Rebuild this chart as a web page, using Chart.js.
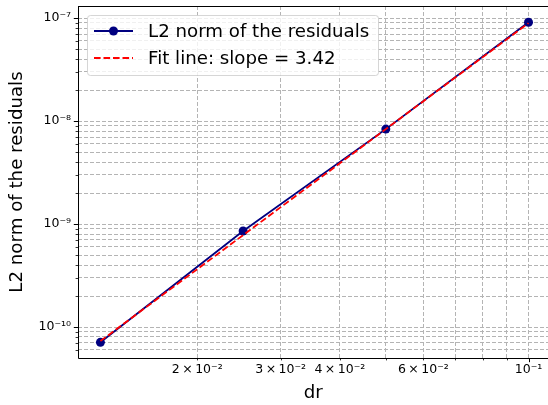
<!DOCTYPE html>
<html>
<head>
<meta charset="utf-8">
<script src="https://cdn.jsdelivr.net/npm/chart.js@4/dist/chart.umd.min.js"></script>
<style>
  html, body { margin: 0; padding: 0; background: #fff; overflow: hidden; width: 548px; height: 405px; }
  canvas { display: block; }
</style>
</head>
<body>
<!-- the plot runs past the right edge of the picture, so the canvas is a little wider than the window -->
<canvas id="chart" width="553" height="405"></canvas>
<script>
'use strict';

let dr = [0.0125, 0.025, 0.05, 0.1];
let residualNorms = [7.1e-11, 8.55e-10, 8.35e-9, 9.1e-8];
let fitNorms = [7.3e-11, 7.8e-10, 8.35e-9, 8.93e-8];
let xTickValues = [0.02, 0.03, 0.04, 0.06, 0.1];
let xTickLabels = ['2\u2009×\u200910⁻²', '3\u2009×\u200910⁻²', '4\u2009×\u200910⁻²', '6\u2009×\u200910⁻²', '10⁻¹'];
let yTickValues = [1e-10, 1e-9, 1e-8, 1e-7];
let yTickLabels = ['10⁻¹⁰', '10⁻⁹', '10⁻⁸', '10⁻⁷'];
let legendLabels = ['L2 norm of the residuals', 'Fit line: slope = 3.42'];

let canvasElem = document.getElementById('chart');
Chart.defaults.font.family = 'DejaVu Sans';
Chart.defaults.color = '#000';

// every 1..9 x 10^n inside the axis range, like matplotlib's minor grid
function logTicks(min, max) {
  let out = [];
  for (let e = Math.floor(Math.log10(min)); e <= Math.ceil(Math.log10(max)); e++) {
    for (let m = 1; m < 10; m++) {
      let v = m * Math.pow(10, e);
      if (v >= min && v <= max) out.push({value: v});
    }
  }
  return out;
}

function labelFor(value, values, labels) {
  for (let i = 0; i < values.length; i++) {
    if (Math.abs(value / values[i] - 1) < 1e-6) return labels[i];
  }
  return '';
}

function isDecade(v) {
  let l = Math.log10(v);
  return Math.abs(l - Math.round(l)) < 1e-6;
}

let decorations = {
  id: 'decorations',
  afterDraw(chart) {
    let ctx = chart.ctx;
    let area = chart.chartArea;
    ctx.save();
    // axes frame
    ctx.strokeStyle = '#000';
    ctx.lineWidth = 1;
    ctx.beginPath();
    ctx.moveTo(area.left + 0.5, area.top + 0.5);
    ctx.lineTo(area.right, area.top + 0.5);
    ctx.moveTo(area.left + 0.5, area.top);
    ctx.lineTo(area.left + 0.5, area.bottom + 0.5);
    ctx.lineTo(area.right, area.bottom + 0.5);
    ctx.stroke();
    // tick marks, outward
    let xs = chart.scales.x, ys = chart.scales.y;
    xs.ticks.forEach(t => {
      let px = Math.round(xs.getPixelForValue(t.value)) + 0.5;
      let len = isDecade(t.value) ? 4.2 : 2.4;
      ctx.lineWidth = isDecade(t.value) ? 1 : 0.8;
      ctx.beginPath();
      ctx.moveTo(px, area.bottom);
      ctx.lineTo(px, area.bottom + len);
      ctx.stroke();
    });
    ys.ticks.forEach(t => {
      let py = Math.round(ys.getPixelForValue(t.value)) + 0.5;
      let len = isDecade(t.value) ? 4.2 : 2.4;
      ctx.lineWidth = isDecade(t.value) ? 1 : 0.8;
      ctx.beginPath();
      ctx.moveTo(area.left, py);
      ctx.lineTo(area.left - len, py);
      ctx.stroke();
    });
    // legend box
    ctx.beginPath();
    ctx.roundRect(87.5, 15.5, 291, 60, 3);
    ctx.fillStyle = 'rgba(255,255,255,0.8)';
    ctx.fill();
    ctx.strokeStyle = 'rgba(204,204,204,0.8)';
    ctx.lineWidth = 1;
    ctx.stroke();
    let sets = chart.data.datasets;
    ctx.lineWidth = 1.8;
    ctx.strokeStyle = sets[0].borderColor;
    ctx.beginPath();
    ctx.moveTo(94, 31);
    ctx.lineTo(133, 31);
    ctx.stroke();
    ctx.fillStyle = sets[0].backgroundColor;
    ctx.beginPath();
    ctx.arc(113.5, 31, 4.5, 0, Math.PI * 2);
    ctx.fill();
    ctx.strokeStyle = sets[1].borderColor;
    ctx.setLineDash(sets[1].borderDash);
    ctx.beginPath();
    ctx.moveTo(94, 58);
    ctx.lineTo(133, 58);
    ctx.stroke();
    ctx.setLineDash([]);
    ctx.fillStyle = '#000';
    ctx.font = '18.2px "DejaVu Sans"';
    ctx.textBaseline = 'middle';
    ctx.fillText(legendLabels[0], 148, 32);
    ctx.fillText(legendLabels[1], 148, 59);
    ctx.restore();
  }
};

function renderChart() {
  let chartConfig = {
    type: 'scatter',
    data: {
      datasets: [{
        label: legendLabels[0],
        data: dr.map((x, i) => ({x: x, y: residualNorms[i]})),
        borderColor: '#000080',
        backgroundColor: '#000080',
        borderWidth: 1.8,
        pointRadius: 4.5,
        pointHoverRadius: 4.5,
        pointBorderWidth: 0,
        showLine: true,
        order: 1
      },
      {
        label: legendLabels[1],
        data: dr.map((x, i) => ({x: x, y: fitNorms[i]})),
        borderColor: '#ff0000',
        backgroundColor: '#ff0000',
        borderWidth: 1.8,
        borderDash: [6.6, 2.9],
        pointRadius: 0,
        pointHoverRadius: 0,
        showLine: true,
        order: 0
      }]
    },
    options: {
      responsive: false,
      animation: false,
      layout: { padding: { top: 6, left: 0, right: 0, bottom: 0 } },
      plugins: {
        legend: { display: false },
        tooltip: { enabled: false }
      },
      scales: {
        x: {
          type: 'logarithmic',
          min: 0.01121,
          max: 0.1102,
          afterBuildTicks: s => { s.ticks = logTicks(s.min, s.max); },
          afterFit: s => { s.height = 47; s.paddingLeft = 0; s.paddingRight = 0; },
          grid: { color: '#b4b4b4', lineWidth: 1, drawTicks: false, borderDash: [4, 2] },
          border: { display: false, dash: [4, 2] },
          ticks: {
            autoSkip: false,
            maxRotation: 0,
            minRotation: 0,
            padding: 4,
            font: { size: 12.5 },
            callback: v => labelFor(v, xTickValues, xTickLabels)
          },
          title: {
            display: true,
            text: 'dr',
            font: { size: 18.2 },
            padding: { top: 0, bottom: 1 }
          }
        },
        y: {
          type: 'logarithmic',
          min: 5.0e-11,
          max: 1.31e-7,
          afterBuildTicks: s => { s.ticks = logTicks(s.min, s.max); },
          afterFit: s => { s.width = 78; s.paddingTop = 0; s.paddingBottom = 0; },
          grid: { color: '#b4b4b4', lineWidth: 1, drawTicks: false, borderDash: [4, 2] },
          border: { display: false, dash: [4, 2] },
          ticks: {
            autoSkip: false,
            padding: 7,
            font: { size: 12.5 },
            callback: v => labelFor(v, yTickValues, yTickLabels)
          },
          title: {
            display: true,
            text: 'L2 norm of the residuals',
            font: { size: 18.2 },
            padding: { top: 6, bottom: 0 }
          }
        }
      }
    },
    plugins: [decorations]
  };
  new Chart(canvasElem, chartConfig);
}

renderChart();
</script>
</body>
</html>
